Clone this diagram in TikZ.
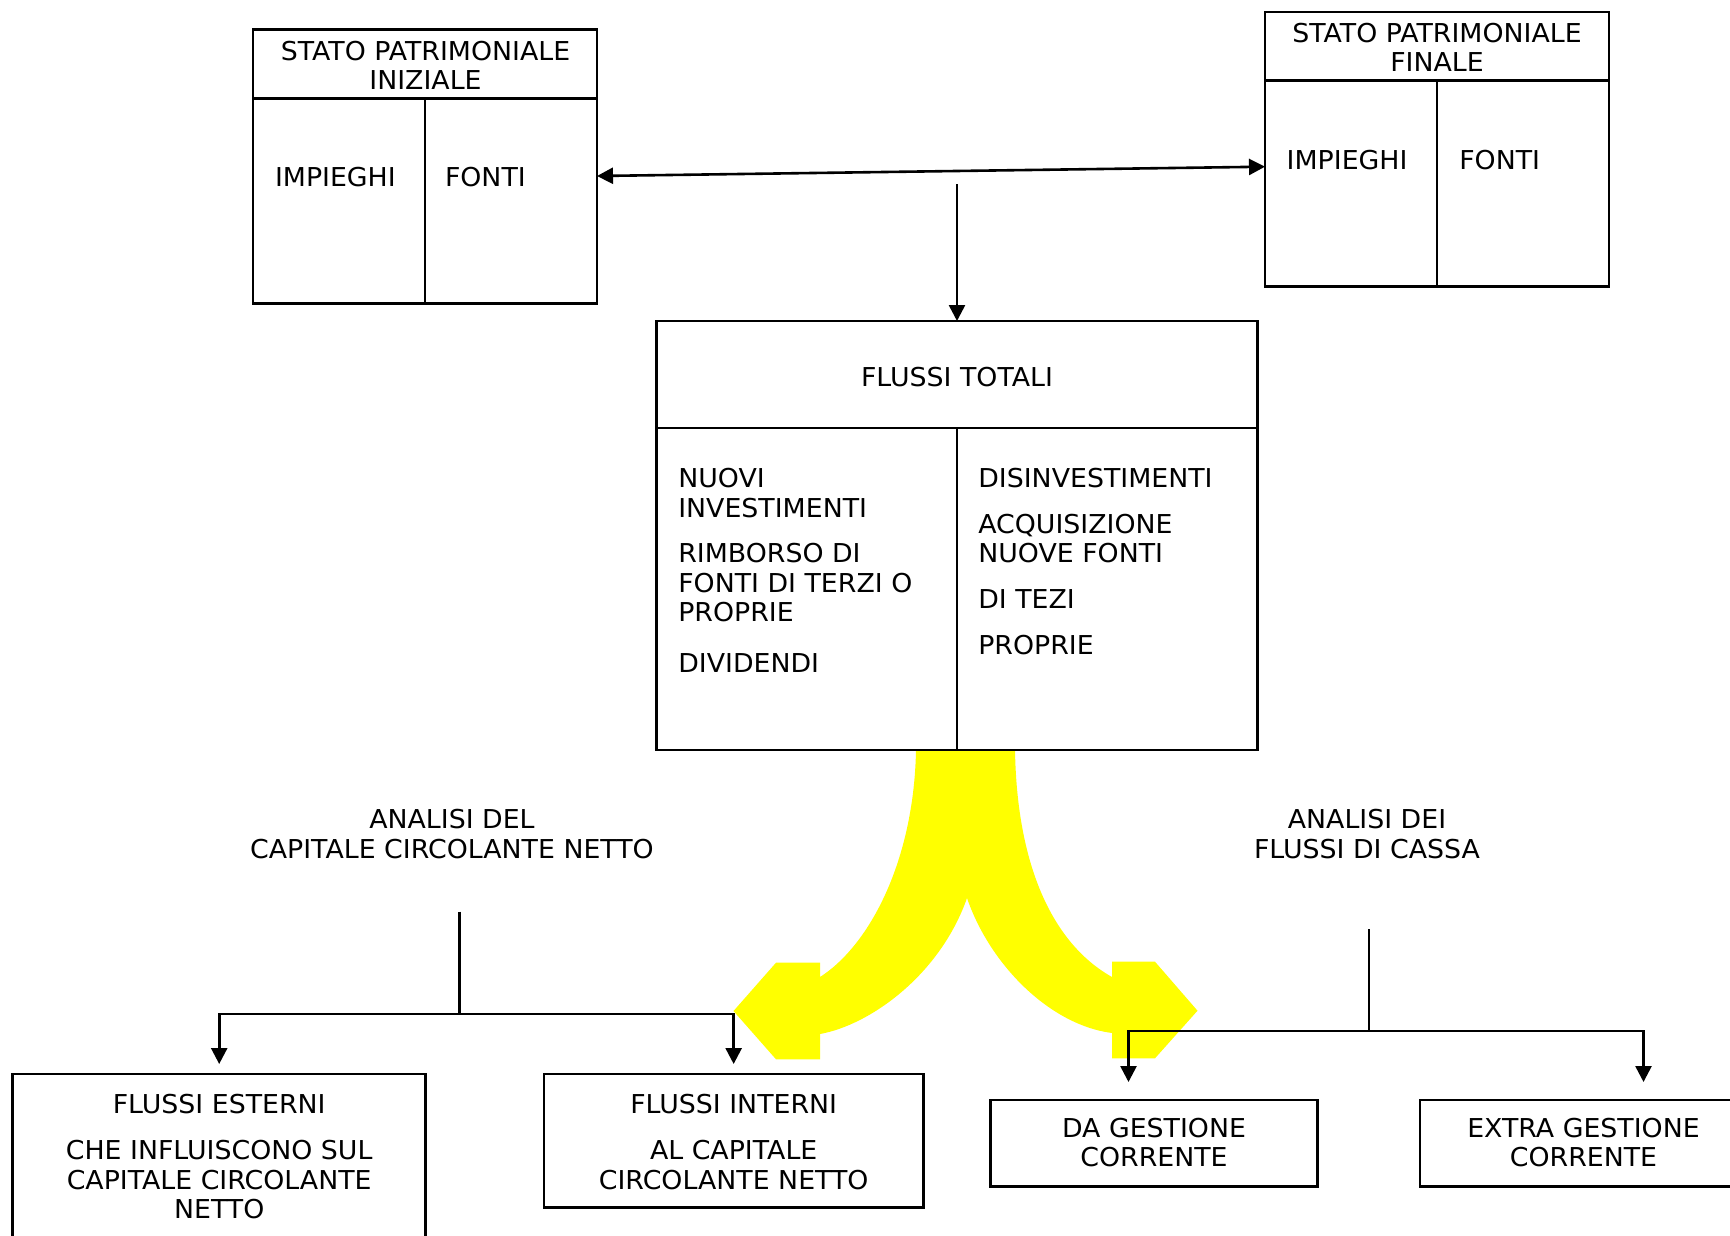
\documentclass[tikz,border=0pt]{standalone}
\usepackage{fontspec}
\setmainfont{DejaVu Sans}[FakeStretch=1.03]
\usetikzlibrary{arrows.meta}
\definecolor{flowyellow}{RGB}{255,255,0}
\tikzset{
  box/.style={draw, line width=2.8pt, inner sep=0pt, outer sep=0pt},
  sep/.style={line width=2.8pt},
  txt/.style={font=\fontsize{26}{29.5}\selectfont, inner sep=0pt, outer sep=0pt, align=center},
  ltxt/.style={txt, align=left, anchor=north west},
  conn/.style={line width=2.6pt},
  arr/.style={conn, -{Triangle[length=16pt,width=16pt]}},
  darr/.style={conn, {Triangle[length=16pt,width=16pt]}-{Triangle[length=16pt,width=16pt]}},
  flow/.style={fill=flowyellow, draw=none}
}
\begin{document}
\begin{tikzpicture}[x=1pt,y=-1pt]
\useasboundingbox (0,0) rectangle (1730,1235);
\clip (0,0) rectangle (1730,1235);

% yellow split arrow
\fill[flow] (916,750) -- (1015,750)
  .. controls (1017,870) and (1055,945) .. (1112,977)
  -- (1112,961.7) -- (1155,961.7) -- (1197.5,1010.7) -- (1155,1058.3) -- (1112,1058.3) -- (1112,1033)
  .. controls (1050,1025) and (990,965) .. (967,898)
  .. controls (940,975) and (870,1025) .. (820,1034)
  -- (820,1059.3) -- (776,1059.3) -- (733.5,1011) -- (776,962.7) -- (820,962.7) -- (820,977)
  .. controls (870,945) and (914,860) .. (916,750) -- cycle;

% boxes
\node[box, minimum width=344pt, minimum height=274pt] (spi) at (425,166.5) {};
\draw[sep] ([yshift=-69pt]spi.north west) -- ([yshift=-69pt]spi.north east);
\draw[sep] ([yshift=-69pt]spi.north) -- (spi.south);

\node[box, minimum width=344pt, minimum height=274.5pt] (spf) at (1437,149.25) {};
\draw[sep] ([yshift=-68.7pt]spf.north west) -- ([yshift=-68.7pt]spf.north east);
\draw[sep] ([yshift=-68.7pt]spf.north) -- (spf.south);

\node[box, minimum width=601pt, minimum height=429pt] (ft) at (957,535.5) {};
\draw[sep] ([yshift=-107pt]ft.north west) -- ([yshift=-107pt]ft.north east);
\draw[sep] ([yshift=-107pt]ft.north) -- (ft.south);

\node[box, minimum width=413pt, minimum height=186pt] (fe) at (219.2,1167) {};
\node[box, minimum width=379.3pt, minimum height=133.3pt] (fi) at (733.65,1140.65) {};
\node[box, minimum width=326.7pt, minimum height=86.7pt] (dg) at (1154.15,1143.35) {};
\node[box, minimum width=320pt, minimum height=86.7pt] (eg) at (1580,1143.35) {};

% connectors top
\draw[darr] ([yshift=-9.5pt]spi.east) -- ([yshift=-17.45pt]spf.west);
\coordinate (vt) at (957,184);
\draw[arr] (vt) -- (ft.north);

% left tree
\coordinate (lt) at (459.3,911.5);
\coordinate (lb) at (459.3,1014);
\draw[conn] (lt) -- (lb);
\draw[arr] (lb) -| ([yshift=10pt]fe.north);
\draw[arr] (lb) -| ([yshift=10pt]fi.north);

% right tree
\coordinate (rt) at (1369,929);
\coordinate (rb) at (1369,1031);
\coordinate (dgtip) at (1128.5,1082);
\coordinate (egtip) at (1643.5,1082);
\draw[conn] (rt) -- (rb);
\draw[arr] (rb) -| (dgtip);
\draw[arr] (rb) -| (egtip);

% texts
\node[txt] (spit) at (425.5,65.4) {STATO PATRIMONIALE\\INIZIALE};
\node[txt, anchor=west] (spii) at (275,177.5) {IMPIEGHI};
\node[txt, anchor=west] (spif) at (445,177.5) {FONTI};
\node[txt] (spft) at (1437,47.3) {STATO PATRIMONIALE\\FINALE};
\node[txt, anchor=west] (spfi) at (1286.7,159.7) {IMPIEGHI};
\node[txt, anchor=west] (spff) at (1459.3,159.7) {FONTI};

\node[txt] (ftt) at (957,376.7) {FLUSSI TOTALI};
\node[ltxt] (l1) at (678.3,468.3) {NUOVI\\INVESTIMENTI};
\node[ltxt] (l2) at (678.3,543.3) {RIMBORSO DI\\FONTI DI TERZI O\\PROPRIE};
\node[ltxt] (l3) at (678.3,653.3) {DIVIDENDI};
\node[ltxt] (r1) at (978.3,468.3) {DISINVESTIMENTI};
\node[ltxt] (r2) at (978.3,514) {ACQUISIZIONE\\NUOVE FONTI};
\node[ltxt] (r3) at (978.3,590) {DI TEZI};
\node[ltxt] (r4) at (978.3,635) {PROPRIE};

\node[txt] (acc) at (452,834) {ANALISI DEL\\CAPITALE CIRCOLANTE NETTO};
\node[txt] (afc) at (1367,834) {ANALISI DEI\\FLUSSI DI CASSA};

\node[txt, anchor=north] (fet) at (219.2,1093.8) {FLUSSI ESTERNI\\[17pt]CHE INFLUISCONO SUL\\CAPITALE CIRCOLANTE\\NETTO};
\node[txt, anchor=north] (fit) at (733.7,1093.8) {FLUSSI INTERNI\\[17pt]AL CAPITALE\\CIRCOLANTE NETTO};
\node[txt] (dgt) at (1154,1142.5) {DA GESTIONE\\CORRENTE};
\node[txt] (egt) at (1583.5,1142.5) {EXTRA GESTIONE\\CORRENTE};
\end{tikzpicture}
\end{document}
